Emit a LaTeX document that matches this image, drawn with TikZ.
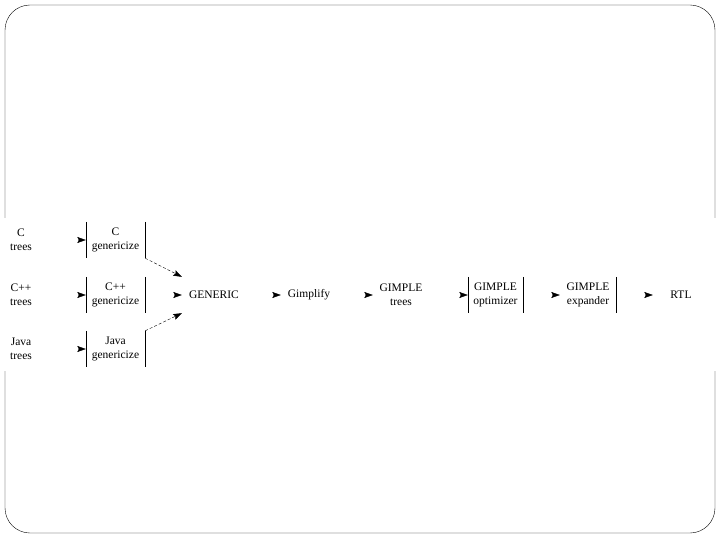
\documentclass[tikz,border=0pt]{standalone}
\usepackage{fontspec}
\setmainfont{Liberation Serif}
\usetikzlibrary{arrows.meta, positioning}
\tikzset{
    pass/.style={white, -{Stealth[black, length=8.5pt, width=6pt, inset=1.5pt]}}, % only the heads show
    feed/.style={densely dashed, -{Stealth[length=8.5pt, width=6pt, inset=1.5pt]}}, % dashed into GENERIC
    phase/.style={align=center, inner xsep=3pt, inner ysep=0pt, minimum width=56pt, minimum height=36pt}, % every stage
    lang/.style={align=center, inner sep=2pt}, % the front-end trees
}

\begin{document}
\begin{tikzpicture}[x=1pt, y=-1pt, font=\fontsize{11.5}{14}\selectfont]
    \useasboundingbox (0,0) rectangle (720,540);
    \draw[rounded corners=25pt] (5,5) rectangle (715,533);
    \fill[white] (0,218) rectangle (720,371);

    \node[lang] (ct) at (21,240) {C\\trees};
    \node[lang] (cppt) at (21,295) {C++\\trees};
    \node[lang] (javat) at (21,349) {Java\\trees};

    \node[phase, minimum width=59pt] (cg) at (115.5,240) {C\\genericize};
    \node[phase, minimum width=59pt] (cppg) at (115.5,295) {C++\\genericize};
    \node[phase, minimum width=59pt] (javag) at (115.5,349) {Java\\genericize};

    \node[phase, minimum width=64pt] (gen) at (214,295) {GENERIC};
    \node[phase] (gimp) at (309,295) {Gimplify};
    \node[phase] (trees) at (401,295) {GIMPLE\\trees};
    \node[phase, minimum width=55pt] (opt) at (495.5,295) {GIMPLE\\optimizer};
    \node[phase] (exp) at (588,295) {GIMPLE\\expander};
    \node[phase] (rtl) at (681,295) {RTL};

    \draw (ct) edge[pass] (cg)
          (cppt) edge[pass] (cppg)
          (javat) edge[pass] (javag)
          (cppg) edge[pass] (gen)
          (gen) edge[pass] (gimp)
          (gimp) edge[pass] (trees)
          (trees) edge[pass] (opt)
          (opt) edge[pass] (exp)
          (exp) edge[pass] (rtl);
    \draw (cg.south east) edge[feed] (gen.north west)
          (javag.north east) edge[feed] (gen.south west);

    % bars on the sides of the passes
    \foreach \n in {cg, cppg, javag, opt}
        \draw (\n.north west) -- (\n.south west) (\n.north east) -- (\n.south east);
    \draw (exp.north east) -- (exp.south east);
\end{tikzpicture}
\end{document}
